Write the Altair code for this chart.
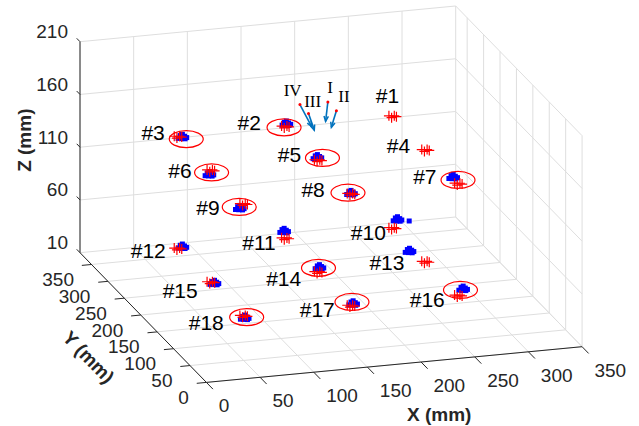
import math
import altair as alt
import pandas as pd

# ---------------- data (mm) ----------------
x_ticks = [0, 50, 100, 150, 200, 250, 300, 350]
y_ticks = [0, 50, 100, 150, 200, 250, 300, 350]
z_ticks = [10, 60, 110, 160, 210]
x_lim = [0, 350]
y_lim = [0, 385]
z_lim = [10, 210]

marker_names = ["#1", "#2", "#3", "#4", "#5", "#6", "#7", "#8", "#9",
                "#10", "#11", "#12", "#13", "#14", "#15", "#16", "#17", "#18"]
true_x = [250, 150, 50, 250, 150, 50, 250, 150, 50,
          250, 150, 50, 250, 150, 50, 250, 150, 50]
true_y = [250, 250, 250, 150, 150, 150, 50, 50, 50,
          250, 250, 250, 150, 150, 150, 50, 50, 50]
true_z = [158, 158, 158, 158, 158, 158, 158, 158, 158,
          52, 52, 52, 52, 52, 52, 52, 52, 52]

# measured (blue) cluster centres
blue_names = ["#2", "#3", "#5", "#6", "#7", "#8", "#9", "#10",
              "#11", "#12", "#13", "#14", "#15", "#16", "#17", "#18"]
blue_x = [151.0, 54.1, 149.3, 48.7, 245.2, 150.0, 46.4, 254.5,
          148.9, 54.1, 235.1, 151.2, 53.4, 254.5, 152.0, 51.0]
blue_y = [250, 250, 150, 150, 50, 50, 50, 250,
          250, 250, 150, 150, 150, 50, 50, 50]
blue_z = [160.8, 157.6, 161.1, 154.7, 165.0, 159.0, 154.8, 60.1,
          59.3, 53.6, 64.0, 56.6, 51.2, 58.2, 54.2, 50.4]
stray_x = [265.4]
stray_y = [250]
stray_z = [57.5]

# spread of single estimates around each centre (mm)
cluster_dx = [-4.0, -2.0, 0.0, 2.0, 4.0, -1.0, 2.5]
cluster_dz = [-1.0, 1.5, 2.5, 0.5, -1.0, -1.5, -2.0]
cross_dx = [-3.5, -1.0, 1.5, 3.5]
cross_dz = [1.0, -1.0, 0.5, -0.5]

ellipse_names = ["#2", "#3", "#5", "#6", "#7", "#8", "#9", "#14", "#16", "#17", "#18"]
ellipse_x = [148.8, 57.7, 154.0, 50.7, 249.7, 147.2, 45.9, 150.3, 252.0, 150.9, 52.8]
ellipse_y = [250, 250, 150, 150, 50, 50, 50, 150, 50, 50, 50]
ellipse_z = [157.5, 155.2, 160.0, 156.2, 161.8, 159.6, 155.9, 56.1, 57.3, 55.7, 50.8]

label_x = [256.1, 127.2, 37.7, 235.7, 134.2, 32.2, 229.7, 125.6, 27.7,
           243.7, 141.1, 38.6, 230.4, 134.2, 37.8, 237.4, 134.9, 31.5]
label_y = [250, 250, 250, 150, 150, 150, 50, 50, 50,
           250, 250, 250, 150, 150, 150, 50, 50, 50]
label_z = [176.0, 162.4, 162.3, 162.7, 163.5, 158.7, 165.6, 162.9, 156.0,
           47.1, 48.0, 49.6, 52.5, 46.4, 44.6, 48.2, 48.9, 46.3]

sensor_names = ["I", "II", "III", "IV"]
sensor_x = [163, 163, 137, 137]
sensor_y = [163, 137, 137, 163]
sensor_z = [208, 208, 208, 208]
arrow_dx = [-2.1, -4.7, 5.4, 10.9]
arrow_dy = [0.0, 0.0, 0.0, 0.0]
arrow_dz = [-18.2, -15.3, -16.4, -21.9]
sensor_label_x = [165.0, 170.1, 140.9, 130.2]
sensor_label_y = [163, 137, 137, 163]
sensor_label_z = [220.8, 220.6, 218.6, 221.8]

# ---------------- view (orthographic camera) ----------------
W, H = 639, 426
view_origin = (206.4, 382.4)
view_ex = (1.0734, -0.102)
view_ey = (-0.3283, -0.3369)
view_ez = (0.0, -1.055)
x_tick_len, y_tick_len, z_tick_len = 20, 9, 10


def proj(x, y, z):
    sx = view_origin[0] + view_ex[0] * x + view_ey[0] * y + view_ez[0] * (z - z_lim[0])
    sy = view_origin[1] + view_ex[1] * x + view_ey[1] * y + view_ez[1] * (z - z_lim[0])
    return sx, sy


def seg(p, q):
    a = proj(*p)
    b = proj(*q)
    return {"sx": a[0], "sy": a[1], "sx2": b[0], "sy2": b[1]}


def pt(x, y, z, **kw):
    a = proj(x, y, z)
    d = {"sx": a[0], "sy": a[1]}
    d.update(kw)
    return d


grid = []
for x in x_ticks:
    grid.append(seg((x, y_lim[0], z_lim[0]), (x, y_lim[1], z_lim[0])))
    grid.append(seg((x, y_lim[1], z_lim[0]), (x, y_lim[1], z_lim[1])))
for y in y_ticks:
    grid.append(seg((x_lim[0], y, z_lim[0]), (x_lim[1], y, z_lim[0])))
    grid.append(seg((x_lim[1], y, z_lim[0]), (x_lim[1], y, z_lim[1])))
for z in z_ticks:
    grid.append(seg((x_lim[0], y_lim[1], z), (x_lim[1], y_lim[1], z)))
    grid.append(seg((x_lim[1], y_lim[0], z), (x_lim[1], y_lim[1], z)))
grid_df = pd.DataFrame(grid)

axes = [seg((x_lim[0], y_lim[0], z_lim[0]), (x_lim[1], y_lim[0], z_lim[0])),
        seg((x_lim[0], y_lim[0], z_lim[0]), (x_lim[0], y_lim[1], z_lim[0])),
        seg((x_lim[0], y_lim[1], z_lim[0]), (x_lim[0], y_lim[1], z_lim[1]))]
for x in x_ticks:
    axes.append(seg((x, y_lim[0], z_lim[0]), (x, y_lim[0] - x_tick_len, z_lim[0])))
for y in y_ticks:
    axes.append(seg((x_lim[0], y, z_lim[0]), (x_lim[0] - y_tick_len, y, z_lim[0])))
for z in z_ticks:
    axes.append(seg((x_lim[0], y_lim[1], z), (x_lim[0], y_lim[1] + z_tick_len, z)))
axes_df = pd.DataFrame(axes)

xlab_df = pd.DataFrame([pt(x, y_lim[0], z_lim[0], t=str(x)) for x in x_ticks])
ylab_df = pd.DataFrame([pt(x_lim[0], y, z_lim[0], t=str(y)) for y in y_ticks])
zlab_df = pd.DataFrame([pt(x_lim[0], y_lim[1], z, t=str(z)) for z in z_ticks])

# axis titles (anchored to axis mid-points, shifted outward)
ax_mid = proj((x_lim[0] + x_lim[1]) / 2, y_lim[0], z_lim[0])
ay_mid = proj(x_lim[0], (y_lim[0] + y_lim[1]) / 2, z_lim[0])
az_mid = proj(x_lim[0], y_lim[1], (z_lim[0] + z_lim[1]) / 2)
xt_df = pd.DataFrame([{"sx": ax_mid[0] + 45, "sy": ax_mid[1] + 50, "t": "X (mm)"}])
yt_df = pd.DataFrame([{"sx": ay_mid[0] - 55, "sy": ay_mid[1] + 40, "t": "Y (mm)"}])
zt_df = pd.DataFrame([{"sx": az_mid[0] - 55, "sy": az_mid[1] - 7, "t": "Z (mm)"}])
y_title_angle = math.degrees(math.atan2(-view_ey[1], -view_ey[0]))

blue = []
for n, bx, by, bz in zip(blue_names, blue_x, blue_y, blue_z):
    for dx, dz in zip(cluster_dx, cluster_dz):
        blue.append(pt(bx + dx, by, bz + dz, m=n))
for bx, by, bz in zip(stray_x, stray_y, stray_z):
    blue.append(pt(bx, by, bz, m="#10"))
blue_df = pd.DataFrame(blue)

red = []
for n, tx, ty, tz in zip(marker_names, true_x, true_y, true_z):
    for dx, dz in zip(cross_dx, cross_dz):
        red.append(pt(tx + dx, ty, tz + dz, m=n))
red_df = pd.DataFrame(red)

ell_df = pd.DataFrame([pt(x, y, z, m=n) for n, x, y, z in
                       zip(ellipse_names, ellipse_x, ellipse_y, ellipse_z)])
lab_df = pd.DataFrame([pt(x, y, z, t=n) for n, x, y, z in
                       zip(marker_names, label_x, label_y, label_z)])

arrows, heads, starts = [], [], []
for n, x, y, z, dx, dy, dz in zip(sensor_names, sensor_x, sensor_y, sensor_z,
                                  arrow_dx, arrow_dy, arrow_dz):
    s = seg((x, y, z), (x + dx, y + dy, z + dz))
    arrows.append(s)
    ang = math.degrees(math.atan2(s["sx2"] - s["sx"], -(s["sy2"] - s["sy"]))) % 360
    heads.append({"sx": s["sx2"], "sy": s["sy2"], "ang": ang})
    starts.append(pt(x, y, z))
arrow_df = pd.DataFrame(arrows)
head_df = pd.DataFrame(heads)
start_df = pd.DataFrame(starts)
slab_df = pd.DataFrame([pt(x, y, z, t=n) for n, x, y, z in
                        zip(sensor_names, sensor_label_x, sensor_label_y, sensor_label_z)])

# ---------------- chart ----------------
xs = alt.Scale(domain=[0, W], nice=False, zero=False)
ys = alt.Scale(domain=[0, H], nice=False, zero=False, reverse=True)
X = alt.X("sx:Q", scale=xs, axis=None)
Y = alt.Y("sy:Q", scale=ys, axis=None)
X2 = alt.X2("sx2:Q")
Y2 = alt.Y2("sy2:Q")

SANS = "Liberation Sans"
AX = "#262626"

cross_path = "M-1,0L1,0M0,-1L0,1"
ellipse_path = "M-1,0A1,0.5,0,1,0,1,0A1,0.5,0,1,0,-1,0Z"
head_path = "M-0.55,1.3L0,0L0.55,1.3"

layers = [
    alt.Chart(grid_df).mark_rule(color="#DEDEDE", strokeWidth=1).encode(x=X, y=Y, x2=X2, y2=Y2),
    alt.Chart(axes_df).mark_rule(color=AX, strokeWidth=1).encode(x=X, y=Y, x2=X2, y2=Y2),
    alt.Chart(xlab_df).mark_text(align="left", baseline="middle", dx=12.4, dy=24,
                                 font=SANS, fontSize=19, color=AX).encode(x=X, y=Y, text="t:N"),
    alt.Chart(ylab_df).mark_text(align="right", baseline="middle", dx=-17.5, dy=15.5,
                                 font=SANS, fontSize=19, color=AX).encode(x=X, y=Y, text="t:N"),
    alt.Chart(zlab_df).mark_text(align="right", baseline="middle", dx=-12, dy=-9.5,
                                 font=SANS, fontSize=19, color=AX).encode(x=X, y=Y, text="t:N"),
    alt.Chart(xt_df).mark_text(align="center", baseline="middle", font=SANS, fontSize=19,
                               fontWeight="bold", color=AX).encode(x=X, y=Y, text="t:N"),
    alt.Chart(yt_df).mark_text(align="center", baseline="middle", font=SANS, fontSize=19,
                               fontWeight="bold", color=AX, angle=y_title_angle).encode(x=X, y=Y, text="t:N"),
    alt.Chart(zt_df).mark_text(align="center", baseline="middle", font=SANS, fontSize=19,
                               fontWeight="bold", color=AX, angle=270).encode(x=X, y=Y, text="t:N"),
    alt.Chart(blue_df).mark_square(color="#0000FF", size=25, opacity=1).encode(x=X, y=Y),
    alt.Chart(red_df).mark_point(shape=cross_path, size=100, filled=False, color="#FF0000",
                                 strokeWidth=1.2, opacity=1).encode(x=X, y=Y),
    alt.Chart(ell_df).mark_point(shape=ellipse_path, size=34 * 34, filled=False, color="#FF0000",
                                 strokeWidth=1.2, opacity=1).encode(x=X, y=Y),
    alt.Chart(lab_df).mark_text(align="right", baseline="middle", font=SANS, fontSize=21,
                                color="#000000").encode(x=X, y=Y, text="t:N"),
    alt.Chart(arrow_df).mark_rule(color="#0072BD", strokeWidth=1.6).encode(x=X, y=Y, x2=X2, y2=Y2),
    alt.Chart(head_df).mark_point(shape=head_path, size=64, filled=False, color="#0072BD",
                                  strokeWidth=1.5, opacity=1).encode(
        x=X, y=Y, angle=alt.Angle("ang:Q", scale=None)),
    alt.Chart(start_df).mark_circle(color="#FF0000", size=9, opacity=1).encode(x=X, y=Y),
    alt.Chart(slab_df).mark_text(align="center", baseline="middle", font="Liberation Serif",
                                 fontSize=17, color="#000000").encode(x=X, y=Y, text="t:N"),
]

chart = alt.layer(*layers).properties(
    width=W, height=H, padding=0, autosize=alt.AutoSizeParams(type="none"),
    background="white",
).configure_view(stroke=None)

chart.save("out.html", embed_options={"renderer": "svg", "actions": False})
